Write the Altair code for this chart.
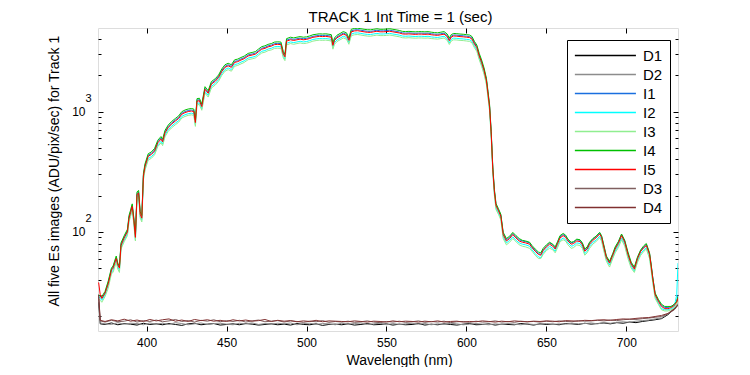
import altair as alt
import pandas as pd

# ---------------- data ----------------
wl = [
    370, 371, 372, 374, 376, 378, 379, 381, 382, 383,
    384, 386, 388, 389, 390, 391, 392, 393, 394, 395,
    396, 397, 398, 399, 401, 403, 405, 407, 409, 410,
    411.5, 413.5, 415.5, 418, 420, 422, 424, 426, 428, 429.5,
    430.5, 431.5, 433, 434.5, 436.5, 438.5, 440.5, 443, 445, 447,
    449, 451, 453, 455, 457, 459, 461, 463.5, 466, 468,
    470, 472, 474, 476, 478, 480, 482, 484, 485.5, 486.5,
    487.5, 490, 492, 494, 496, 498, 500, 502, 504, 506,
    508, 510, 512, 514, 515.5, 516.5, 517.5, 519, 521, 523,
    525, 526.5, 528, 530, 532, 534, 536, 538, 540, 542,
    544, 546, 548, 550, 552, 554, 556, 558, 560, 562,
    564, 566, 568, 570, 572, 574, 576, 578, 580, 582,
    584, 586, 588, 589.3, 590.5, 592, 594, 596, 598, 600,
    602, 603.5, 605, 606.5, 608, 609.5, 611, 612.5, 613.5, 614.5,
    615.5, 616.5, 617.5, 618.5, 620, 621.5, 623, 625, 627, 629,
    631, 633, 635, 637, 639.5, 641, 643, 645, 646.5, 648,
    650, 652, 654, 655.5, 657, 658.5, 660.5, 662, 663.5, 665.5,
    667, 669, 671, 672.5, 674, 675.5, 677, 679, 681, 683.3,
    684.5, 685.5, 687.5, 689.5, 691.5, 693, 695, 697, 699, 701,
    703, 705, 707, 709, 711, 712.5, 714.5, 715.5, 716.5, 718,
    720, 722, 724, 726, 728, 730, 731.5, 732.3,
]

I5 = [
    38, 30, 28, 31, 37, 48, 50, 60, 53, 50,
    77, 89, 100, 130, 145, 163, 125, 90, 205, 210,
    140, 130, 290, 350, 425, 440, 470, 550, 590, 560,
    665, 735, 785, 835, 875, 950, 980, 1000, 1010, 1000,
    810, 1220, 1230, 1100, 1530, 1420, 1690, 1790, 1920, 2150,
    2330, 2400, 2330, 2560, 2600, 2680, 2750, 2900, 2950, 3000,
    3150, 3300, 3350, 3450, 3500, 3600, 3620, 3600, 3000, 2850,
    3850, 3950, 3900, 3950, 4000, 3950, 3980, 4050, 4140, 4180,
    4220, 4200, 4220, 4180, 4150, 3550, 3900, 4100, 4250, 4400,
    4300, 3900, 4600, 4680, 4700, 4650, 4600, 4560, 4550, 4600,
    4650, 4600, 4600, 4620, 4650, 4600, 4550, 4500, 4420, 4400,
    4420, 4400, 4380, 4400, 4400, 4380, 4400, 4350, 4320, 4300,
    4350, 4400, 4200, 3880, 4150, 4250, 4230, 4200, 4180, 4150,
    4120, 4000, 3650, 3400, 2900, 2550, 2200, 1800, 1400, 1080,
    650, 330, 215, 165, 150, 135, 95, 84, 88, 95,
    89, 84, 82, 81, 79, 74, 69, 65, 64, 70,
    75, 79, 76, 72, 80, 89, 93, 90, 84, 79,
    80, 84, 83, 78, 69, 72, 79, 85, 89, 96,
    90, 79, 61, 55, 64, 72, 80, 93, 82, 65,
    54, 49, 60, 69, 74, 77, 65, 52, 41, 30,
    26.5, 24, 23, 23, 23.5, 24.5, 26, 28,
]

I4 = [
    30, 29, 29, 32, 39, 50, 52, 63, 55, 52,
    81, 93, 105, 137, 152, 171, 131, 95, 215, 221,
    147, 137, 305, 368, 446, 462, 494, 578, 620, 588,
    698, 772, 824, 877, 919, 998, 1030, 1050, 1060, 1050,
    850, 1280, 1290, 1155, 1610, 1490, 1775, 1880, 2015, 2260,
    2450, 2520, 2450, 2690, 2730, 2815, 2890, 3045, 3100, 3150,
    3310, 3465, 3520, 3620, 3675, 3780, 3800, 3780, 3150, 2990,
    4040, 4150, 4095, 4150, 4200, 4150, 4180, 4250, 4350, 4390,
    4430, 4410, 4430, 4390, 4360, 3730, 4095, 4305, 4460, 4620,
    4515, 4095, 4830, 4910, 4935, 4880, 4830, 4790, 4780, 4830,
    4880, 4830, 4830, 4850, 4880, 4830, 4780, 4725, 4640, 4620,
    4640, 4620, 4600, 4620, 4620, 4600, 4620, 4570, 4535, 4515,
    4570, 4620, 4410, 4075, 4360, 4460, 4440, 4410, 4390, 4360,
    4325, 4200, 3830, 3570, 3045, 2680, 2310, 1890, 1470, 1135,
    680, 345, 225, 172, 156, 140, 99, 88, 92, 99,
    93, 88, 85, 84, 82, 77, 72, 68, 67, 73,
    78, 82, 79, 75, 83, 93, 97, 94, 87, 82,
    83, 87, 86, 81, 72, 75, 82, 88, 92, 99,
    93, 82, 63, 57, 66, 75, 83, 96, 85, 68,
    56, 51, 62, 71, 77, 80, 67, 54, 42, 31,
    27.5, 25, 24, 24, 24, 25, 26.5, 29,
]

I1 = [
    30, 29, 28, 31, 38, 49, 51, 61, 54, 51,
    79, 91, 102, 133, 148, 166, 128, 92, 209, 214,
    143, 133, 296, 357, 434, 449, 480, 561, 602, 571,
    678, 750, 800, 852, 893, 969, 1000, 1020, 1030, 1020,
    826, 1245, 1255, 1120, 1560, 1450, 1725, 1825, 1960, 2195,
    2375, 2450, 2375, 2610, 2650, 2735, 2805, 2960, 3010, 3060,
    3210, 3365, 3415, 3520, 3570, 3670, 3690, 3670, 3060, 2905,
    3925, 4030, 3980, 4030, 4080, 4030, 4060, 4130, 4220, 4265,
    4305, 4285, 4305, 4265, 4235, 3620, 3980, 4180, 4335, 4490,
    4385, 3980, 4690, 4775, 4795, 4745, 4690, 4650, 4640, 4690,
    4745, 4690, 4690, 4710, 4745, 4690, 4640, 4590, 4510, 4490,
    4510, 4490, 4470, 4490, 4490, 4470, 4490, 4435, 4405, 4385,
    4435, 4490, 4285, 3960, 4235, 4335, 4315, 4285, 4265, 4235,
    4200, 4080, 3725, 3470, 2960, 2600, 2245, 1835, 1430, 1100,
    663, 337, 219, 168, 153, 138, 97, 86, 90, 97,
    91, 86, 84, 83, 81, 75, 70, 66, 65, 71,
    76, 81, 78, 73, 82, 91, 95, 92, 86, 81,
    82, 86, 85, 80, 70, 73, 81, 87, 91, 98,
    92, 81, 62, 56, 65, 73, 82, 95, 84, 66,
    55, 50, 61, 70, 75, 79, 66, 53, 42, 30.5,
    27, 24.5, 23.5, 23.5, 24, 25, 26.5, 30,
]

I2 = [
    29, 28, 27, 30, 36, 46, 48, 58, 51, 48,
    74, 85, 96, 125, 139, 156, 120, 86, 197, 202,
    134, 125, 278, 336, 408, 422, 451, 528, 566, 538,
    638, 706, 754, 802, 840, 912, 941, 960, 970, 960,
    778, 1170, 1180, 1055, 1470, 1365, 1620, 1720, 1845, 2065,
    2235, 2305, 2235, 2460, 2495, 2575, 2640, 2785, 2830, 2880,
    3025, 3170, 3215, 3310, 3360, 3455, 3475, 3455, 2880, 2735,
    3695, 3790, 3745, 3790, 3840, 3790, 3820, 3890, 3975, 4015,
    4050, 4030, 4050, 4015, 3985, 3410, 3745, 3935, 4080, 4225,
    4130, 3745, 4415, 4495, 4510, 4465, 4415, 4380, 4370, 4415,
    4465, 4415, 4415, 4435, 4465, 4415, 4370, 4320, 4245, 4225,
    4245, 4225, 4205, 4225, 4225, 4205, 4225, 4175, 4145, 4130,
    4175, 4225, 4030, 3725, 3985, 4080, 4060, 4030, 4015, 3985,
    3955, 3840, 3505, 3265, 2785, 2450, 2110, 1730, 1345, 1035,
    625, 317, 206, 158, 144, 130, 91, 81, 85, 91,
    85, 81, 79, 78, 76, 71, 66, 62, 61, 67,
    72, 76, 73, 69, 77, 85, 89, 86, 81, 76,
    77, 81, 80, 75, 66, 69, 76, 82, 85, 92,
    86, 76, 59, 53, 61, 69, 77, 89, 79, 62,
    52, 47, 58, 66, 71, 74, 62, 50, 39, 29,
    25.5, 23, 22.5, 22.5, 23, 24, 30, 55,
]

I3 = [
    28, 27, 26, 29, 34, 45, 46, 56, 49, 46,
    72, 83, 93, 121, 135, 152, 116, 84, 191, 195,
    130, 121, 270, 326, 395, 409, 437, 512, 549, 521,
    618, 684, 730, 777, 814, 884, 911, 930, 939, 930,
    753, 1135, 1145, 1025, 1425, 1320, 1570, 1665, 1785, 2000,
    2165, 2230, 2165, 2380, 2420, 2490, 2560, 2700, 2745, 2790,
    2930, 3070, 3115, 3210, 3255, 3350, 3365, 3350, 2790, 2650,
    3580, 3675, 3625, 3675, 3720, 3675, 3700, 3765, 3850, 3890,
    3925, 3905, 3925, 3890, 3860, 3300, 3625, 3815, 3950, 4090,
    4000, 3625, 4280, 4350, 4370, 4325, 4280, 4240, 4230, 4280,
    4325, 4280, 4280, 4295, 4325, 4280, 4230, 4185, 4110, 4090,
    4110, 4090, 4075, 4090, 4090, 4075, 4090, 4045, 4020, 4000,
    4045, 4090, 3905, 3610, 3860, 3950, 3935, 3905, 3890, 3860,
    3830, 3720, 3395, 3160, 2700, 2370, 2045, 1675, 1300, 1005,
    605, 307, 200, 153, 140, 126, 88, 78, 82, 88,
    83, 78, 76, 75, 73, 69, 64, 60, 60, 65,
    70, 73, 71, 67, 74, 83, 86, 84, 78, 73,
    74, 78, 77, 73, 64, 67, 73, 79, 83, 89,
    84, 73, 57, 51, 60, 67, 74, 86, 76, 60,
    50, 46, 56, 64, 69, 72, 60, 48, 38, 28,
    25, 22.5, 22, 22, 22.5, 23.5, 25, 27,
]

wl_dark = [
    370, 371, 374, 378, 382, 386, 390, 394, 398, 402,
    406, 410, 414, 418, 422, 426, 430, 434, 438, 442,
    446, 450, 454, 458, 462, 466, 470, 474, 478, 482,
    486, 490, 494, 498, 502, 506, 510, 514, 518, 522,
    526, 530, 534, 538, 542, 546, 550, 554, 558, 562,
    566, 570, 574, 578, 582, 586, 590, 594, 598, 602,
    606, 610, 614, 618, 622, 626, 630, 634, 638, 642,
    646, 650, 654, 658, 662, 666, 670, 674, 678, 682,
    686, 690, 694, 698, 702, 706, 710, 714, 718, 722,
    726, 730, 732.3,
]

D1 = [
    26, 17.2, 17.0, 17.5, 16.9, 17.3, 17.1, 16.8, 17.4, 17.0,
    17.2, 16.9, 17.3, 17.0, 16.7, 17.2, 17.4, 16.9, 17.1, 17.3,
    16.8, 17.0, 17.2, 16.9, 17.3, 17.1, 16.8, 17.0, 17.2, 16.9,
    17.1, 16.8, 17.3, 17.0, 16.9, 17.2, 16.7, 17.0, 17.1, 16.9,
    17.2, 16.8, 17.0, 17.3, 16.9, 17.0, 17.2, 16.8, 17.1, 16.9,
    17.0, 17.3, 16.8, 17.1, 16.9, 17.2, 17.0, 16.8, 17.1, 17.3,
    16.9, 17.0, 17.2, 16.8, 17.1, 17.0, 16.9, 17.3, 17.1, 16.8,
    17.2, 17.0, 17.1, 16.9, 17.3, 17.2, 17.0, 17.4, 17.1, 17.3,
    17.5, 17.2, 17.6, 17.4, 17.8, 17.6, 18.0, 18.3, 18.6, 19.0,
    20.5, 23.0, 25.0,
]

D2 = [
    28, 17.5, 17.2, 17.0, 17.6, 17.1, 17.4, 17.3, 16.9, 17.5,
    17.1, 17.4, 17.0, 17.6, 17.3, 16.9, 17.2, 17.5, 17.0, 17.3,
    17.4, 17.1, 16.9, 17.4, 17.2, 17.5, 17.0, 17.3, 17.1, 17.4,
    17.2, 17.5, 16.9, 17.3, 17.4, 17.0, 17.3, 17.2, 16.9, 17.4,
    17.1, 17.3, 17.5, 17.0, 17.2, 17.4, 16.9, 17.3, 17.0, 17.2,
    17.4, 17.1, 17.3, 16.9, 17.2, 17.0, 17.4, 17.2, 16.9, 17.1,
    17.3, 17.1, 16.9, 17.2, 17.0, 17.3, 17.1, 16.9, 17.2, 17.0,
    17.1, 17.3, 17.0, 17.2, 17.1, 17.4, 17.2, 17.3, 17.5, 17.2,
    17.6, 17.4, 17.7, 17.9, 17.7, 18.1, 18.3, 18.5, 18.9, 19.3,
    20.8, 23.5, 25.5,
]

D3 = [
    29, 18.2, 17.8, 18.4, 17.9, 18.1, 18.6, 17.8, 18.3, 18.0,
    18.5, 17.9, 18.2, 18.7, 18.0, 18.3, 17.8, 18.4, 18.1, 18.6,
    17.9, 18.3, 18.0, 18.4, 17.8, 18.2, 18.5, 17.9, 18.1, 18.3,
    17.8, 18.2, 18.0, 17.7, 18.1, 17.9, 18.3, 17.7, 18.0, 17.8,
    18.1, 17.7, 17.9, 18.2, 17.8, 17.6, 18.0, 17.8, 18.1, 17.7,
    17.9, 18.2, 17.7, 18.0, 17.8, 18.1, 17.6, 17.9, 18.0, 17.7,
    18.1, 17.8, 17.9, 18.2, 17.8, 18.0, 17.7, 18.1, 17.9, 18.0,
    17.8, 18.1, 17.9, 18.2, 18.0, 17.9, 18.3, 18.1, 18.2, 18.4,
    18.2, 18.5, 18.3, 18.6, 18.8, 18.7, 19.0, 19.2, 19.5, 19.8,
    20.8, 22.5, 24.5,
]

D4 = [
    30, 18.4, 18.0, 18.6, 18.2, 18.8, 18.1, 18.5, 18.0, 18.7,
    18.2, 18.6, 18.9, 18.1, 18.5, 18.0, 18.7, 18.3, 18.6, 18.1,
    18.4, 18.0, 18.6, 18.2, 18.5, 18.1, 18.3, 18.7, 18.0, 18.4,
    18.1, 18.3, 17.9, 18.2, 18.0, 18.4, 17.9, 18.2, 18.1, 18.0,
    17.9, 18.2, 18.0, 17.8, 18.1, 18.0, 17.8, 18.2, 17.9, 18.1,
    18.0, 17.8, 18.1, 17.9, 18.2, 17.8, 18.0, 18.1, 17.8, 18.0,
    17.9, 18.2, 18.0, 17.8, 18.1, 17.9, 18.2, 18.0, 17.9, 18.1,
    18.0, 18.2, 18.1, 17.9, 18.3, 18.2, 18.1, 18.4, 18.3, 18.5,
    18.6, 18.4, 18.7, 18.9, 18.8, 19.1, 19.3, 19.4, 19.8, 20.2,
    21.0, 22.8, 24.8,
]

names = ["D1", "D2", "I1", "I2", "I3", "I4", "I5", "D3", "D4"]
colors = ["#000000", "#8c8c8c", "#1a6fdf", "#00ffff", "#90ee90",
          "#00c000", "#ff0000", "#7f5f5f", "#803030"]

x_ticks = [400, 450, 500, 550, 600, 650, 700]
y_major = [100, 1000]
y_minor = [20, 30, 40, 50, 60, 70, 80, 90,
           200, 300, 400, 500, 600, 700, 800, 900,
           2000, 3000, 4000]
x_domain = [369.6, 732.3]
y_domain = [15, 4950]
chart_title = "TRACK 1  Int Time = 1 (sec)"

series = {
    "D1": (wl_dark, D1), "D2": (wl_dark, D2),
    "I1": (wl, I1), "I2": (wl, I2), "I3": (wl, I3), "I4": (wl, I4), "I5": (wl, I5),
    "D3": (wl_dark, D3), "D4": (wl_dark, D4),
}
frames = []
for n in names:
    xs, vs = series[n]
    assert len(xs) == len(vs), (n, len(xs), len(vs))
    frames.append(pd.DataFrame({"wl": xs, "val": vs, "series": n}))
df = pd.concat(frames, ignore_index=True)
anchor = df.head(1)

FONT = "Liberation Sans"
xsc = alt.Scale(domain=x_domain, nice=False, zero=False)
ysc = alt.Scale(type="log", domain=y_domain, nice=False)

common = dict(domain=False, grid=False, tickColor="black", labelColor="black",
              labelFont=FONT, titleFont=FONT, titleColor="black",
              titleFontWeight="normal")

main = alt.Chart(df).mark_line(strokeWidth=1, clip=True).encode(
    x=alt.X("wl:Q", scale=xsc, axis=alt.Axis(
        orient="bottom", values=x_ticks, offset=-5, tickSize=5,
        labelPadding=6, labelFontSize=12, title="Wavelength (nm)",
        titleFontSize=14, titleX=301, titleY=38, titleAnchor="middle",
        titleAlign="center", titleBaseline="alphabetic", **common)),
    y=alt.Y("val:Q", scale=ysc, axis=alt.Axis(
        orient="left", values=y_major, labelExpr="'10'", offset=-5, tickSize=5,
        labelPadding=13, labelFontSize=12,
        title="All five Es images (ADU/pix/sec) for Track 1",
        titleFontSize=14, titleAngle=270, titleAlign="left",
        titleBaseline="alphabetic", titleX=-45, titleY=278, **common)),
    color=alt.Color("series:N", sort=names,
                    scale=alt.Scale(domain=names, range=colors),
                    legend=alt.Legend(
                        title=None, orient="none", legendX=469, legendY=12,
                        symbolType="M-1,0H7", symbolSize=233,
                        symbolStrokeWidth=1.5, labelFont=FONT,
                        labelFontSize=15, labelColor="black",
                        labelOffset=52, rowPadding=2.0, padding=7,
                        strokeColor="black", fillColor="white")),
)

# top axis carries the chart title; right axis carries the major ticks
top_right = alt.Chart(anchor).mark_point(opacity=0).encode(
    x=alt.X("wl:Q", scale=xsc, axis=alt.Axis(
        orient="top", values=x_ticks, offset=-5, tickSize=5, labels=False,
        title=chart_title, titleFontSize=15, titleX=302, titleY=-12,
        titleAlign="center", titleAnchor="middle", titleBaseline="alphabetic",
        **common)),
    y=alt.Y("val:Q", scale=ysc, title=None, axis=alt.Axis(
        orient="right", values=y_major, offset=-5, tickSize=5, labels=False, **common)),
)

minor_left = alt.Chart(anchor).mark_point(opacity=0).encode(
    x=alt.X("wl:Q", scale=xsc, axis=None),
    y=alt.Y("val:Q", scale=ysc, title=None, axis=alt.Axis(
        orient="left", values=y_minor, offset=-3, tickSize=3, labels=False, **common)),
)

minor_right = alt.Chart(anchor).mark_point(opacity=0).encode(
    x=alt.X("wl:Q", scale=xsc, axis=None),
    y=alt.Y("val:Q", scale=ysc, title=None, axis=alt.Axis(
        orient="right", values=y_minor, offset=-3, tickSize=3, labels=False, **common)),
)

exponents = alt.Chart(anchor).mark_point(opacity=0).encode(
    x=alt.X("wl:Q", scale=xsc, axis=None),
    y=alt.Y("val:Q", scale=ysc, title=None, axis=alt.Axis(
        orient="left", values=y_major,
        labelExpr="datum.value < 500 ? '2' : '3'",
        ticks=False, tickSize=0, labelPadding=7, labelFontSize=11,
        labelOffset=-13, **common)),
)

chart = alt.layer(main, top_right, minor_left, minor_right, exponents).resolve_axis(
    x="independent", y="independent"
).properties(
    width=580, height=303,
    padding={"left": 90, "top": 20, "right": 64, "bottom": 36},
    autosize=alt.AutoSizeParams(type="none"),
).configure_view(stroke="black", strokeWidth=1).configure(background="white")

chart.save("out.html", embed_options={"renderer": "svg", "actions": False})
